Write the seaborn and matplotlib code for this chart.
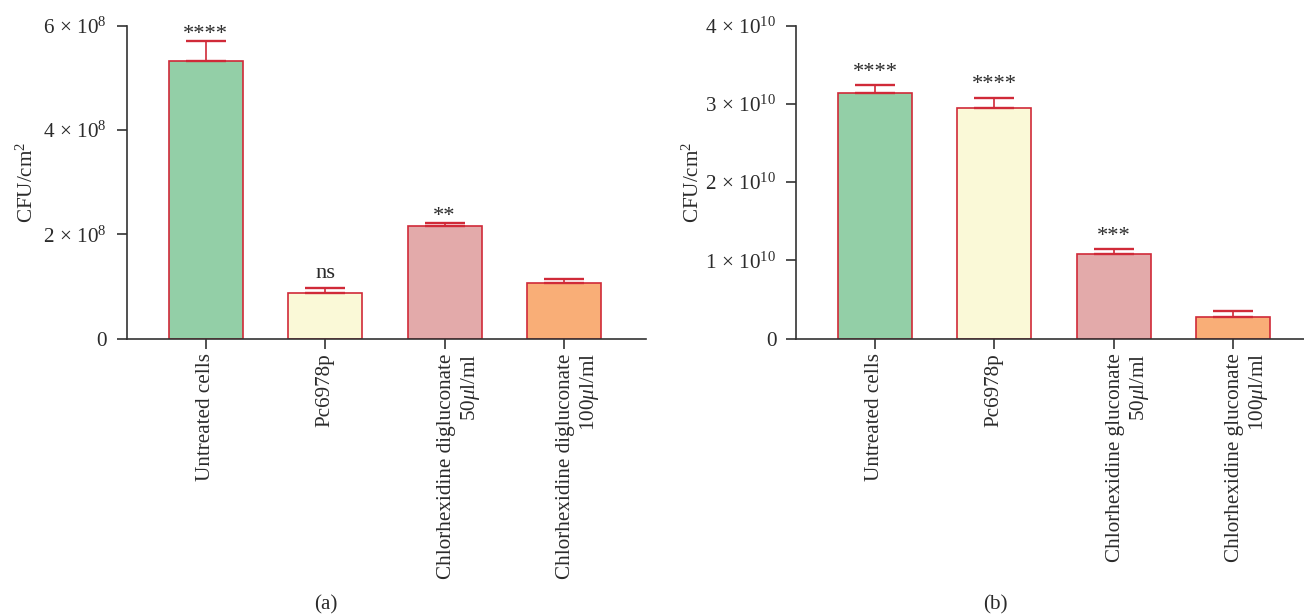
import matplotlib
matplotlib.use("Agg")
import matplotlib.pyplot as plt
import matplotlib.transforms as mtransforms
import seaborn as sns
import pandas as pd
import numpy as np

# ---------------- data ----------------
categories_a = ["Untreated cells", "Pc6978p",
                "Chlorhexidine digluconate\n50$\\mu$l/ml",
                "Chlorhexidine digluconate\n100$\\mu$l/ml"]
means_a = [5.33e8, 0.88e8, 2.15e8, 1.06e8]
errs_a = [0.37e8, 0.08e8, 0.06e8, 0.09e8]
sig_a = ["****", "ns", "**", ""]
yticks_a = [0, 2e8, 4e8, 6e8]
yticklabels_a = ["0", r"$2\,\times\,10^{8}$", r"$4\,\times\,10^{8}$", r"$6\,\times\,10^{8}$"]

categories_b = ["Untreated cells", "Pc6978p",
                "Chlorhexidine gluconate\n50$\\mu$l/ml",
                "Chlorhexidine gluconate\n100$\\mu$l/ml"]
means_b = [3.14e10, 2.95e10, 1.08e10, 0.28e10]
errs_b = [0.10e10, 0.13e10, 0.065e10, 0.077e10]
sig_b = ["****", "****", "***", ""]
yticks_b = [0, 1e10, 2e10, 3e10, 4e10]
yticklabels_b = ["0", r"$1\,\times\,10^{10}$", r"$2\,\times\,10^{10}$",
                 r"$3\,\times\,10^{10}$", r"$4\,\times\,10^{10}$"]

bar_colors = ["#93CFA7", "#FAF9D7", "#E3AAAA", "#F9AE77"]
edge_color = "#D02A38"
ylabel = "CFU/cm$^{2}$"
panel_labels = ["(a)", "(b)"]

# ---------------- style ----------------
sns.set_style("ticks")
plt.rcParams["font.family"] = ["Liberation Serif", "DejaVu Serif"]
plt.rcParams["mathtext.fontset"] = "custom"
plt.rcParams["mathtext.rm"] = "Liberation Serif"
plt.rcParams["mathtext.it"] = "Liberation Serif:italic"
plt.rcParams["mathtext.bf"] = "Liberation Serif:bold"

W, H = 1304, 616
fig = plt.figure(figsize=(W / 100, H / 100), dpi=100)

y_bot, y_top = 338.5, 25.7
ax1 = fig.add_axes([126.7 / W, 1 - y_bot / H, (646 - 126.7) / W, (y_bot - y_top) / H])
ax2 = fig.add_axes([796 / W, 1 - y_bot / H, (1304 - 796) / W, (y_bot - y_top) / H])

FS = 15.2
TXT = "#2b2b2b"
SPINE = "#333333"


def draw(ax, cats, means, errs, sigs, yticks, ylabels, xlim, ylab_x, sig_off):
    df = pd.DataFrame({"cat": cats, "val": means})
    sns.barplot(data=df, x="cat", y="val", hue="cat", palette=bar_colors,
                saturation=1, legend=False, width=0.62, edgecolor=edge_color,
                linewidth=1.2, errorbar=None, ax=ax, zorder=2)
    x = np.arange(len(cats))
    ax.errorbar(x, means, yerr=[np.zeros(len(errs)), errs], fmt="none",
                ecolor=edge_color, elinewidth=1.2, capsize=14.4, capthick=1.7,
                zorder=3)
    for xi, m, e, s in zip(x, means, errs, sigs):
        if not s:
            continue
        off = 7.5 if s == "ns" else sig_off
        ax.annotate(s, xy=(xi, m + e), xytext=(0, off), textcoords="offset points",
                    ha="center", va="baseline", fontsize=FS + 1, color=TXT,
                    annotation_clip=False)
    ax.set_xlim(*xlim)
    ax.set_ylim(yticks[0], yticks[-1])
    ax.set_yticks(yticks)
    ax.set_yticklabels(ylabels, fontsize=FS, color=TXT)
    ax.set_xticks(x)
    ax.set_xticklabels(cats, rotation=90, ha="center", va="top",
                       multialignment="right", fontsize=FS, color=TXT)
    ax.set_xlabel("")
    ax.set_ylabel(ylabel, fontsize=FS, color=TXT)
    ax.yaxis.set_label_coords(ylab_x, 0.5)
    sns.despine(ax=ax)
    for sp in ("left", "bottom"):
        ax.spines[sp].set_color(SPINE)
        ax.spines[sp].set_linewidth(1.2)
    ax.tick_params(axis="both", length=7.2, width=1.2, color=SPINE)
    ax.tick_params(axis="y", pad=7)
    ax.tick_params(axis="x", pad=3.5)
    # shift two-line labels so that their first line sits on the tick
    shift = mtransforms.ScaledTranslation(10.5 / 72, 0, fig.dpi_scale_trans)
    for lab in ax.get_xticklabels():
        if "\n" in lab.get_text():
            lab.set_transform(lab.get_transform() + shift)


draw(ax1, categories_a, means_a, errs_a, sig_a, yticks_a, yticklabels_a,
     (-0.662, 3.687), -(126.7 - 38) / (646 - 126.7), 1.5)
draw(ax2, categories_b, means_b, errs_b, sig_b, yticks_b, yticklabels_b,
     (-0.662, 3.595), -(796 - 704) / (1304 - 796), 6.0)

fig.text(326 / W, 1 - 605 / H, panel_labels[0], ha="center", va="center",
         fontsize=FS, color=TXT)
fig.text(995 / W, 1 - 605 / H, panel_labels[1], ha="center", va="center",
         fontsize=FS, color=TXT)

fig.savefig("out.png", dpi=100)
